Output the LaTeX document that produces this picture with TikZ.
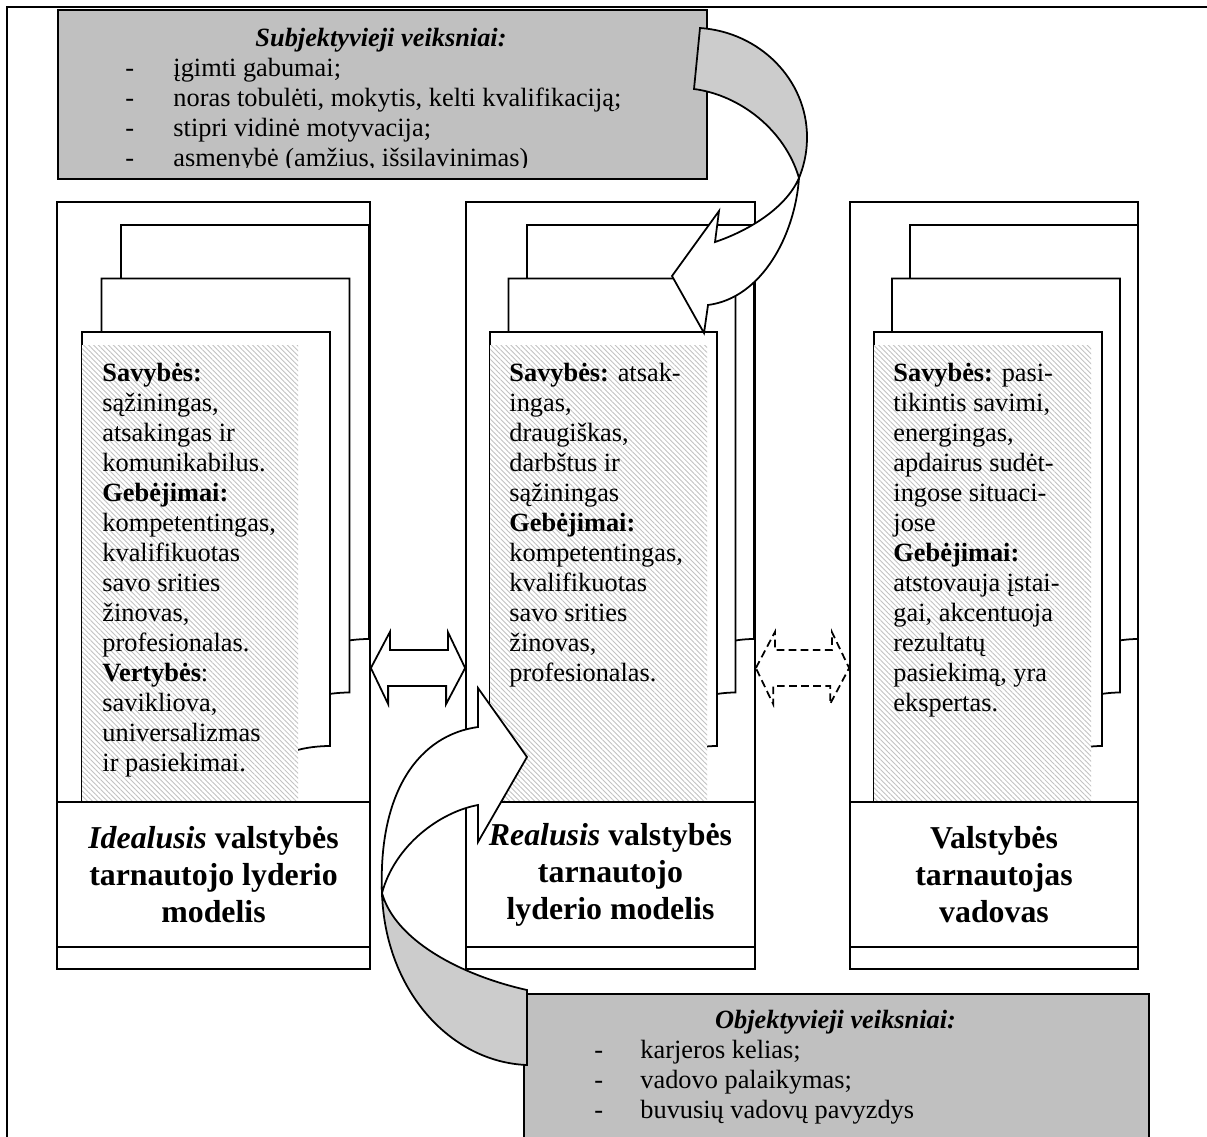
\documentclass[tikz,border=0pt]{standalone}
\usepackage{fontspec}
\setmainfont{Liberation Serif}
\usetikzlibrary{patterns.meta}
\definecolor{boxgray}{HTML}{C0C0C0}
\definecolor{ribbon}{HTML}{CCCCCC}
\definecolor{hatchline}{HTML}{C2C2C2}
\newdimen\px \px=0.016cm
\newcommand\bodysize{\fontsize{12}{13.66}\selectfont}
\newcommand\titlesize{\fontsize{14.5}{16.84}\selectfont}
% three stacked pages: #1 left of front page, #2 page width, #3 step to the right
\newcommand\pagestack[3]{%
  \foreach \k in {2,1,0}
    \filldraw[page,shift={(#1+#3*\k,332-53.5*\k)}]
      (0,482) -- (0,0) -- (#2,0) -- (#2,414) .. controls (#2/2,414) and (#2/2,571) .. (0,482) -- cycle;
}
\tikzset{
  frame/.style={draw,thick},
  column/.style={draw,thick,fill=white,inner sep=0pt},
  page/.style={draw,thick,fill=white},
  hatch/.style={preaction={fill=white},pattern={Lines[angle=-45,distance=1.6pt,line width=.4pt]},pattern color=hatchline},
  factorbox/.style={draw,thick,fill=boxgray,inner sep=0pt},
  ribbonback/.style={draw,thick,fill=ribbon},
  ribbonfront/.style={draw,thick,fill=white},
  link/.style={draw,thick,fill=white},
  bodytext/.style={inner sep=0pt,font=\bodysize},
  traits/.style={bodytext,anchor=north west,align=left},
  coltitle/.style={inner sep=0pt,font=\titlesize\bfseries,align=center},
  factortitle/.style={bodytext,anchor=base,font=\bodysize\bfseries\itshape}
}

\begin{document}
\begin{tikzpicture}[x=0.016cm,y=-0.016cm]
  \useasboundingbox (0,0) rectangle (1207,1136);
  \clip (0,0) rectangle (1207,1136);
  \draw[frame] (7,7) rectangle (1215,1145);

  % the three models
  \node[column,minimum width=313\px,minimum height=767\px] (ideal) at (213.5,585.5) {};
  \node[column,minimum width=289\px,minimum height=767\px] (real) at (610.5,585.5) {};
  \node[column,minimum width=288\px,minimum height=767\px] (chief) at (994,585.5) {};

  \begin{scope}
    \clip (ideal.north west) rectangle (ideal.east |- 0,802);
    \pagestack{82}{248}{19.5}
    \fill[hatch] (82,345) rectangle (298,803);
  \end{scope}
  \begin{scope}
    \clip (real.north west) rectangle (real.east |- 0,802);
    \pagestack{490}{227}{18.5}
    \fill[hatch] (490,345) rectangle (707,803);
  \end{scope}
  \begin{scope}
    \clip (chief.north west) rectangle (chief.east |- 0,802);
    \pagestack{874}{228}{18}
    \fill[hatch] (874,345) rectangle (1091,803);
  \end{scope}
  \foreach \c in {ideal,real,chief} {
    \draw[thick] (\c.west |- 0,802) -- (\c.east |- 0,802);
    \draw[thick] (\c.west |- 0,947) -- (\c.east |- 0,947);
  }

  \node[traits] (ideal-traits) at (102,360) {\strut\textbf{Savybės:}\\ sąžiningas,\\ atsakingas ir\\ komunikabilus.\\
    \textbf{Gebėjimai:}\\ kompetentingas,\\ kvalifikuotas\\ savo srities\\ žinovas,\\ profesionalas.\\
    \textbf{Vertybės}:\\ savikliova,\\ universalizmas\\ ir pasiekimai.};
  \node[traits] (real-traits) at (509,360) {\strut\textbf{Savybės:} atsak-\\ ingas,\\ draugiškas,\\ darbštus ir\\ sąžiningas\\
    \textbf{Gebėjimai:}\\ kompetentingas,\\ kvalifikuotas\\ savo srities\\ žinovas,\\ profesionalas.};
  \node[traits] (chief-traits) at (893,360) {\strut\textbf{Savybės:} pasi-\\ tikintis savimi,\\ energingas,\\ apdairus sudėt-\\ ingose situaci-\\ jose\\
    \textbf{Gebėjimai:}\\ atstovauja įstai-\\ gai, akcentuoja\\ rezultatų\\ pasiekimą, yra\\ ekspertas.};

  \node[coltitle] (ideal-title) at (ideal.center |- 0,874.5) {\textit{Idealusis} valstybės\\ tarnautojo lyderio\\ modelis};
  \node[coltitle] (real-title) at (real.center |- 0,874.5) {\textit{Realusis} valstybės\\ tarnautojo\\ lyderio modelis};
  \node[coltitle] (chief-title) at (chief.center |- 0,874.5) {Valstybės\\ tarnautojas\\ vadovas};

  % links between the models
  \draw[link] (ideal.east |- 0,668) -- ++(19,-36) -- ++(0,18) -- ++(58,0) -- ++(0,-18) -- (real.west |- 0,668)
    -- ++(-19,36) -- ++(0,-18) -- ++(-58,0) -- ++(0,18) -- cycle;
  \draw[link,dash pattern=on 3.5pt off 2pt] (real.east |- 0,668) -- ++(19,-36) -- ++(0,18) -- ++(57,0) -- ++(0,-18) -- (chief.west |- 0,668)
    -- ++(-19,36) -- ++(0,-18) -- ++(-57,0) -- ++(0,18) -- cycle;

  % subjective factors
  \node[factorbox,anchor=north west,minimum width=649\px,minimum height=169\px] (subj) at (57,9) {};
  \begin{scope}
    \clip (57,9) rectangle (706,167);
    \node[factortitle] (subj-title) at (381,46) {Subjektyvieji veiksniai:};
    \foreach \t [count=\i] in {įgimti gabumai;, {noras tobulėti, mokytis, kelti kvalifikaciją;},
        stipri vidinė motyvacija;, {asmenybė (amžius, išsilavinimas)}} {
      \node[bodytext,anchor=base west] (subj-dash-\i) at (125,46+30*\i) {-};
      \node[bodytext,anchor=base west] (subj-item-\i) at (173,46+30*\i) {\t};
    }
  \end{scope}

  % objective factors
  \node[factorbox,anchor=north west,minimum width=625\px,minimum height=200\px] (obj) at (523,993) {};
  \node[factortitle] (obj-title) at (835.5,1028) {Objektyvieji veiksniai:};
  \foreach \t [count=\i] in {karjeros kelias;, vadovo palaikymas;, buvusių vadovų pavyzdys} {
    \node[bodytext,anchor=base west] (obj-dash-\i) at (594,1028+30*\i) {-};
    \node[bodytext,anchor=base west] (obj-item-\i) at (640,1028+30*\i) {\t};
  }

  % curved arrow from the subjective factors
  \filldraw[ribbonback] (700,28) .. controls (760,32) and (807,80) .. (807,137)
    .. controls (807,155) and (803,168) .. (799,178) .. controls (785,130) and (740,95) .. (694,89) -- cycle;
  \filldraw[ribbonfront] (799,178) .. controls (795,235) and (762,298) .. (708,305) -- (704,333) -- (672,276)
    -- (719,211) -- (715,242) .. controls (745,232) and (785,210) .. (799,178) -- cycle;

  % curved arrow from the objective factors
  \filldraw[ribbonback] (382,893) .. controls (385,990) and (450,1062) .. (527,1065) -- (527,990)
    .. controls (460,975) and (395,940) .. (382,893) -- cycle;
  \filldraw[ribbonfront] (382,893) .. controls (378,790) and (420,735) .. (478,727) -- (478,688) -- (527,757)
    -- (478,842) -- (478,805) .. controls (440,812) and (395,845) .. (382,893) -- cycle;
\end{tikzpicture}
\end{document}
